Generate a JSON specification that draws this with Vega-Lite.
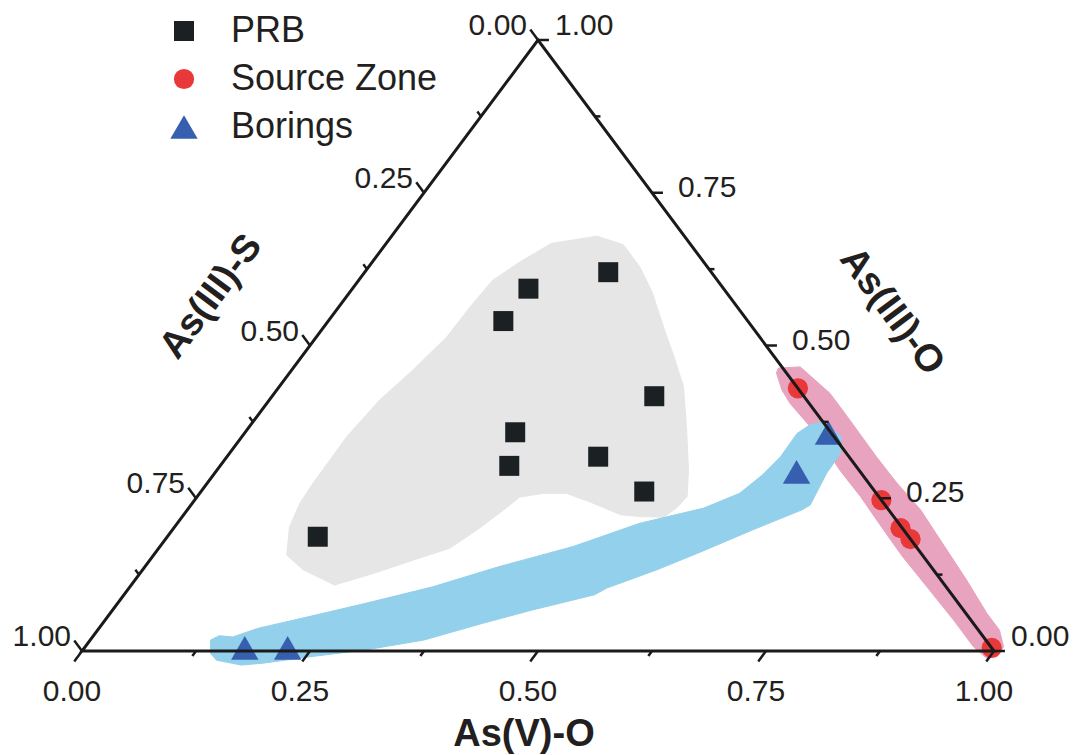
{
  "$schema": "https://vega.github.io/schema/vega-lite/v6.json",
  "width": 912,
  "height": 611,
  "autosize": {"type": "none"},
  "padding": {"left": 82, "top": 40, "right": 84, "bottom": 104},
  "background": "white",
  "config": {
    "view": {"stroke": null},
    "font": "Liberation Sans, Arial, sans-serif",
    "legend": {
      "padding": 0,
      "labelFontSize": 36,
      "labelFont": "Liberation Sans, Arial, sans-serif",
      "labelColor": "#231f20",
      "labelOffset": 29,
      "labelLimit": 500,
      "rowPadding": 12,
      "symbolStrokeWidth": 0,
      "symbolOpacity": 1,
      "title": null
    }
  },
  "datasets": {
    "points": [
      {"group": "PRB", "S": 0.113, "V": 0.267, "O": 0.620},
      {"group": "PRB", "S": 0.214, "V": 0.193, "O": 0.593},
      {"group": "PRB", "S": 0.268, "V": 0.192, "O": 0.540},
      {"group": "PRB", "S": 0.164, "V": 0.419, "O": 0.417},
      {"group": "PRB", "S": 0.346, "V": 0.296, "O": 0.358},
      {"group": "PRB", "S": 0.380, "V": 0.317, "O": 0.303},
      {"group": "PRB", "S": 0.275, "V": 0.407, "O": 0.318},
      {"group": "PRB", "S": 0.253, "V": 0.486, "O": 0.261},
      {"group": "PRB", "S": 0.648, "V": 0.165, "O": 0.187},
      {"group": "Source Zone", "S": 0.000, "V": 0.570, "O": 0.430},
      {"group": "Source Zone", "S": 0.000, "V": 0.753, "O": 0.247},
      {"group": "Source Zone", "S": 0.002, "V": 0.797, "O": 0.201},
      {"group": "Source Zone", "S": 0.000, "V": 0.817, "O": 0.183},
      {"group": "Source Zone", "S": 0.000, "V": 0.995, "O": 0.005},
      {"group": "Borings", "S": 0.819, "V": 0.176, "O": 0.005},
      {"group": "Borings", "S": 0.772, "V": 0.223, "O": 0.005},
      {"group": "Borings", "S": 0.070, "V": 0.637, "O": 0.293},
      {"group": "Borings", "S": 0.003, "V": 0.640, "O": 0.357}
    ],
    "regions": [
      {"region": "PRB", "V": 0.181, "O": 0.667},
      {"region": "PRB", "V": 0.225, "O": 0.679},
      {"region": "PRB", "V": 0.261, "O": 0.665},
      {"region": "PRB", "V": 0.297, "O": 0.629},
      {"region": "PRB", "V": 0.331, "O": 0.588},
      {"region": "PRB", "V": 0.372, "O": 0.531},
      {"region": "PRB", "V": 0.408, "O": 0.482},
      {"region": "PRB", "V": 0.443, "O": 0.433},
      {"region": "PRB", "V": 0.482, "O": 0.362},
      {"region": "PRB", "V": 0.517, "O": 0.296},
      {"region": "PRB", "V": 0.537, "O": 0.253},
      {"region": "PRB", "V": 0.535, "O": 0.234},
      {"region": "PRB", "V": 0.528, "O": 0.219},
      {"region": "PRB", "V": 0.502, "O": 0.220},
      {"region": "PRB", "V": 0.479, "O": 0.223},
      {"region": "PRB", "V": 0.435, "O": 0.244},
      {"region": "PRB", "V": 0.402, "O": 0.258},
      {"region": "PRB", "V": 0.377, "O": 0.258},
      {"region": "PRB", "V": 0.354, "O": 0.252},
      {"region": "PRB", "V": 0.347, "O": 0.231},
      {"region": "PRB", "V": 0.334, "O": 0.198},
      {"region": "PRB", "V": 0.319, "O": 0.168},
      {"region": "PRB", "V": 0.289, "O": 0.149},
      {"region": "PRB", "V": 0.256, "O": 0.127},
      {"region": "PRB", "V": 0.223, "O": 0.108},
      {"region": "PRB", "V": 0.176, "O": 0.133},
      {"region": "PRB", "V": 0.146, "O": 0.157},
      {"region": "PRB", "V": 0.126, "O": 0.203},
      {"region": "PRB", "V": 0.118, "O": 0.242},
      {"region": "PRB", "V": 0.116, "O": 0.275},
      {"region": "PRB", "V": 0.115, "O": 0.351},
      {"region": "PRB", "V": 0.121, "O": 0.411},
      {"region": "PRB", "V": 0.133, "O": 0.460},
      {"region": "PRB", "V": 0.143, "O": 0.514},
      {"region": "PRB", "V": 0.144, "O": 0.564},
      {"region": "PRB", "V": 0.147, "O": 0.607},
      {"region": "PRB", "V": 0.162, "O": 0.637},
      {"region": "Borings", "V": 0.132, "O": 0.018},
      {"region": "Borings", "V": 0.138, "O": 0.025},
      {"region": "Borings", "V": 0.154, "O": 0.023},
      {"region": "Borings", "V": 0.174, "O": 0.037},
      {"region": "Borings", "V": 0.220, "O": 0.056},
      {"region": "Borings", "V": 0.272, "O": 0.078},
      {"region": "Borings", "V": 0.332, "O": 0.105},
      {"region": "Borings", "V": 0.388, "O": 0.138},
      {"region": "Borings", "V": 0.453, "O": 0.171},
      {"region": "Borings", "V": 0.507, "O": 0.209},
      {"region": "Borings", "V": 0.565, "O": 0.234},
      {"region": "Borings", "V": 0.592, "O": 0.258},
      {"region": "Borings", "V": 0.602, "O": 0.288},
      {"region": "Borings", "V": 0.607, "O": 0.318},
      {"region": "Borings", "V": 0.606, "O": 0.356},
      {"region": "Borings", "V": 0.613, "O": 0.370},
      {"region": "Borings", "V": 0.624, "O": 0.375},
      {"region": "Borings", "V": 0.657, "O": 0.351},
      {"region": "Borings", "V": 0.670, "O": 0.324},
      {"region": "Borings", "V": 0.671, "O": 0.291},
      {"region": "Borings", "V": 0.679, "O": 0.239},
      {"region": "Borings", "V": 0.674, "O": 0.231},
      {"region": "Borings", "V": 0.636, "O": 0.198},
      {"region": "Borings", "V": 0.595, "O": 0.160},
      {"region": "Borings", "V": 0.564, "O": 0.133},
      {"region": "Borings", "V": 0.524, "O": 0.103},
      {"region": "Borings", "V": 0.516, "O": 0.092},
      {"region": "Borings", "V": 0.460, "O": 0.067},
      {"region": "Borings", "V": 0.416, "O": 0.045},
      {"region": "Borings", "V": 0.366, "O": 0.018},
      {"region": "Borings", "V": 0.311, "O": 0.002},
      {"region": "Borings", "V": 0.257, "O": -0.009},
      {"region": "Borings", "V": 0.208, "O": -0.020},
      {"region": "Borings", "V": 0.186, "O": -0.023},
      {"region": "Borings", "V": 0.155, "O": -0.015},
      {"region": "Borings", "V": 0.143, "O": -0.004},
      {"region": "Source Zone", "V": 0.532, "O": 0.463},
      {"region": "Source Zone", "V": 0.555, "O": 0.465},
      {"region": "Source Zone", "V": 0.609, "O": 0.422},
      {"region": "Source Zone", "V": 0.647, "O": 0.384},
      {"region": "Source Zone", "V": 0.712, "O": 0.318},
      {"region": "Source Zone", "V": 0.756, "O": 0.275},
      {"region": "Source Zone", "V": 0.804, "O": 0.231},
      {"region": "Source Zone", "V": 0.850, "O": 0.182},
      {"region": "Source Zone", "V": 0.912, "O": 0.116},
      {"region": "Source Zone", "V": 0.961, "O": 0.062},
      {"region": "Source Zone", "V": 0.989, "O": 0.034},
      {"region": "Source Zone", "V": 1.007, "O": 0.007},
      {"region": "Source Zone", "V": 1.008, "O": -0.009},
      {"region": "Source Zone", "V": 0.998, "O": -0.012},
      {"region": "Source Zone", "V": 0.974, "O": 0.007},
      {"region": "Source Zone", "V": 0.930, "O": 0.051},
      {"region": "Source Zone", "V": 0.874, "O": 0.105},
      {"region": "Source Zone", "V": 0.823, "O": 0.154},
      {"region": "Source Zone", "V": 0.780, "O": 0.198},
      {"region": "Source Zone", "V": 0.727, "O": 0.253},
      {"region": "Source Zone", "V": 0.683, "O": 0.296},
      {"region": "Source Zone", "V": 0.652, "O": 0.329},
      {"region": "Source Zone", "V": 0.615, "O": 0.367},
      {"region": "Source Zone", "V": 0.574, "O": 0.405},
      {"region": "Source Zone", "V": 0.554, "O": 0.427},
      {"region": "Source Zone", "V": 0.534, "O": 0.455}
    ],
    "frame": [
      {"vertex": "As(III)-S", "V": 0, "O": 0},
      {"vertex": "As(V)-O", "V": 1, "O": 0},
      {"vertex": "As(III)-O", "V": 0, "O": 1}
    ],
    "ticks": [
      {"axis": "bottom", "value": 0}, {"axis": "bottom", "value": 0.125}, {"axis": "bottom", "value": 0.25},
      {"axis": "bottom", "value": 0.375}, {"axis": "bottom", "value": 0.5}, {"axis": "bottom", "value": 0.625},
      {"axis": "bottom", "value": 0.75}, {"axis": "bottom", "value": 0.875}, {"axis": "bottom", "value": 1},
      {"axis": "left", "value": 0}, {"axis": "left", "value": 0.125}, {"axis": "left", "value": 0.25},
      {"axis": "left", "value": 0.375}, {"axis": "left", "value": 0.5}, {"axis": "left", "value": 0.625},
      {"axis": "left", "value": 0.75}, {"axis": "left", "value": 0.875}, {"axis": "left", "value": 1},
      {"axis": "right", "value": 0}, {"axis": "right", "value": 0.125}, {"axis": "right", "value": 0.25},
      {"axis": "right", "value": 0.375}, {"axis": "right", "value": 0.5}, {"axis": "right", "value": 0.625},
      {"axis": "right", "value": 0.75}, {"axis": "right", "value": 0.875}, {"axis": "right", "value": 1}
    ],
    "titles": [
      {"axis": "bottom", "value": 0.5, "title": "As(V)-O"},
      {"axis": "left", "value": 0.5, "title": "As(III)-S"},
      {"axis": "right", "value": 0.5, "title": "As(III)-O"}
    ]
  },
  "layer": [
    {
      "data": {"name": "regions"},
      "transform": [
        {"filter": "datum.region === 'PRB'"},
        {"calculate": "datum.V + datum.O / 2", "as": "x"},
        {"calculate": "datum.O", "as": "y"}
      ],
      "mark": {"type": "line", "interpolate": "linear-closed", "fill": "#e6e6e6", "stroke": "#e6e6e6", "strokeWidth": 1},
      "encoding": {
        "x": {"field": "x", "type": "quantitative", "scale": {"domain": [0, 1], "nice": false, "zero": false}, "axis": null},
        "y": {"field": "y", "type": "quantitative", "scale": {"domain": [0, 1], "nice": false, "zero": false}, "axis": null},
        "order": {"value": null}
      }
    },
    {
      "data": {"name": "regions"},
      "transform": [
        {"filter": "datum.region === 'Source Zone'"},
        {"calculate": "datum.V + datum.O / 2", "as": "x"},
        {"calculate": "datum.O", "as": "y"}
      ],
      "mark": {"type": "line", "interpolate": "linear-closed", "fill": "#e8a3be", "stroke": "#e8a3be", "strokeWidth": 1},
      "encoding": {
        "x": {"field": "x", "type": "quantitative", "axis": null},
        "y": {"field": "y", "type": "quantitative", "axis": null},
        "order": {"value": null}
      }
    },
    {
      "data": {"name": "regions"},
      "transform": [
        {"filter": "datum.region === 'Borings'"},
        {"calculate": "datum.V + datum.O / 2", "as": "x"},
        {"calculate": "datum.O", "as": "y"}
      ],
      "mark": {"type": "line", "interpolate": "linear-closed", "fill": "#93d0eb", "stroke": "#93d0eb", "strokeWidth": 1},
      "encoding": {
        "x": {"field": "x", "type": "quantitative", "axis": null},
        "y": {"field": "y", "type": "quantitative", "axis": null},
        "order": {"value": null}
      }
    },
    {
      "data": {"name": "points"},
      "transform": [
        {"calculate": "datum.V + datum.O / 2", "as": "x"},
        {"calculate": "datum.O", "as": "y"}
      ],
      "mark": {"type": "point", "filled": true, "opacity": 1, "strokeWidth": 0},
      "encoding": {
        "x": {"field": "x", "type": "quantitative", "axis": null},
        "y": {"field": "y", "type": "quantitative", "axis": null},
        "color": {
          "field": "group", "type": "nominal",
          "scale": {"domain": ["PRB", "Source Zone", "Borings"], "range": ["#1b2123", "#e8383a", "#375faf"]},
          "legend": {"orient": "none", "legendX": 84, "legendY": -27, "title": null}
        },
        "shape": {
          "field": "group", "type": "nominal",
          "scale": {"domain": ["PRB", "Source Zone", "Borings"], "range": ["square", "circle", "triangle-up"]},
          "legend": {"orient": "none", "legendX": 84, "legendY": -27, "title": null}
        },
        "size": {
          "field": "group", "type": "nominal",
          "scale": {"type": "ordinal", "domain": ["PRB", "Source Zone", "Borings"], "range": [400, 410, 750]},
          "legend": {"orient": "none", "legendX": 84, "legendY": -27, "title": null}
        }
      }
    },
    {
      "data": {"name": "frame"},
      "transform": [
        {"calculate": "datum.V + datum.O / 2", "as": "x"},
        {"calculate": "datum.O", "as": "y"}
      ],
      "mark": {"type": "line", "interpolate": "linear-closed", "stroke": "#1a1a1a", "strokeWidth": 3, "strokeJoin": "miter"},
      "encoding": {
        "x": {"field": "x", "type": "quantitative", "axis": null},
        "y": {"field": "y", "type": "quantitative", "axis": null},
        "order": {"value": null}
      }
    },
    {
      "data": {"name": "ticks"},
      "transform": [
        {"calculate": "datum.axis === 'bottom' ? datum.value : (datum.axis === 'right' ? 1 - datum.value : 0)", "as": "Vt"},
        {"calculate": "datum.axis === 'bottom' ? 0 : (datum.axis === 'right' ? datum.value : 1 - datum.value)", "as": "Ot"},
        {"calculate": "datum.Vt + datum.Ot / 2", "as": "x"},
        {"calculate": "datum.Ot", "as": "y"},
        {"calculate": "abs(datum.value * 4 - round(datum.value * 4)) < 0.000001", "as": "major"},
        {"calculate": "datum.axis === 'right' ? (datum.major ? 0.012 : 0.006) : (datum.major ? 0.017 : 0.008)", "as": "L"},
        {"calculate": "datum.axis === 'right' ? datum.x + datum.L : datum.x - datum.L / 2", "as": "x2"},
        {"calculate": "datum.axis === 'bottom' ? -datum.L : (datum.axis === 'left' ? datum.y + datum.L : datum.y)", "as": "y2"}
      ],
      "layer": [
        {
          "mark": {"type": "rule", "stroke": "#1a1a1a", "strokeWidth": 2.5},
          "encoding": {
            "x": {"field": "x", "type": "quantitative", "axis": null},
            "y": {"field": "y", "type": "quantitative", "axis": null},
            "x2": {"field": "x2"},
            "y2": {"field": "y2"}
          }
        },
        {
          "transform": [{"filter": "datum.axis === 'bottom' && datum.major"}],
          "mark": {"type": "text", "align": "center", "baseline": "middle", "dx": -10, "dy": 41, "fontSize": 30, "font": "Liberation Sans, Arial, sans-serif", "color": "#231f20"},
          "encoding": {
            "x": {"field": "x", "type": "quantitative", "axis": null},
            "y": {"field": "y", "type": "quantitative", "axis": null},
            "text": {"field": "value", "type": "quantitative", "format": ".2f"}
          }
        },
        {
          "transform": [{"filter": "datum.axis === 'left' && datum.major"}],
          "mark": {"type": "text", "align": "right", "baseline": "middle", "dx": -11, "dy": -14, "fontSize": 30, "font": "Liberation Sans, Arial, sans-serif", "color": "#231f20"},
          "encoding": {
            "x": {"field": "x", "type": "quantitative", "axis": null},
            "y": {"field": "y", "type": "quantitative", "axis": null},
            "text": {"field": "value", "type": "quantitative", "format": ".2f"}
          }
        },
        {
          "transform": [{"filter": "datum.axis === 'right' && datum.major && datum.value > 0 && datum.value < 1"}],
          "mark": {"type": "text", "align": "left", "baseline": "middle", "dx": 26, "dy": -5, "fontSize": 30, "font": "Liberation Sans, Arial, sans-serif", "color": "#231f20"},
          "encoding": {
            "x": {"field": "x", "type": "quantitative", "axis": null},
            "y": {"field": "y", "type": "quantitative", "axis": null},
            "text": {"field": "value", "type": "quantitative", "format": ".2f"}
          }
        },
        {
          "transform": [{"filter": "datum.axis === 'right' && (datum.value === 0 || datum.value === 1)"}],
          "mark": {"type": "text", "align": "left", "baseline": "middle", "dx": 17, "dy": -14, "fontSize": 30, "font": "Liberation Sans, Arial, sans-serif", "color": "#231f20"},
          "encoding": {
            "x": {"field": "x", "type": "quantitative", "axis": null},
            "y": {"field": "y", "type": "quantitative", "axis": null},
            "text": {"field": "value", "type": "quantitative", "format": ".2f"}
          }
        }
      ]
    },
    {
      "data": {"name": "titles"},
      "transform": [
        {"calculate": "datum.axis === 'bottom' ? datum.value : (datum.axis === 'right' ? 1 - datum.value : 0)", "as": "Vt"},
        {"calculate": "datum.axis === 'bottom' ? 0 : (datum.axis === 'right' ? datum.value : 1 - datum.value)", "as": "Ot"},
        {"calculate": "datum.Vt + datum.Ot / 2", "as": "x"},
        {"calculate": "datum.Ot", "as": "y"}
      ],
      "layer": [
        {
          "transform": [{"filter": "datum.axis === 'bottom'"}],
          "mark": {"type": "text", "align": "center", "baseline": "middle", "dx": -14, "dy": 84, "fontSize": 38, "fontWeight": "bold", "font": "Liberation Sans, Arial, sans-serif", "color": "#231f20"},
          "encoding": {
            "x": {"field": "x", "type": "quantitative", "axis": null},
            "y": {"field": "y", "type": "quantitative", "axis": null},
            "text": {"field": "title"}
          }
        },
        {
          "transform": [{"filter": "datum.axis === 'left'"}],
          "mark": {"type": "text", "align": "center", "baseline": "middle", "angle": -53.3, "dx": -20, "dy": -108, "fontSize": 38, "fontWeight": "bold", "font": "Liberation Sans, Arial, sans-serif", "color": "#231f20"},
          "encoding": {
            "x": {"field": "x", "type": "quantitative", "axis": null},
            "y": {"field": "y", "type": "quantitative", "axis": null},
            "text": {"field": "title"}
          }
        },
        {
          "transform": [{"filter": "datum.axis === 'right'"}],
          "mark": {"type": "text", "align": "center", "baseline": "middle", "angle": 53.3, "dx": 48, "dy": -121, "fontSize": 38, "fontWeight": "bold", "font": "Liberation Sans, Arial, sans-serif", "color": "#231f20"},
          "encoding": {
            "x": {"field": "x", "type": "quantitative", "axis": null},
            "y": {"field": "y", "type": "quantitative", "axis": null},
            "text": {"field": "title"}
          }
        }
      ]
    }
  ]
}
